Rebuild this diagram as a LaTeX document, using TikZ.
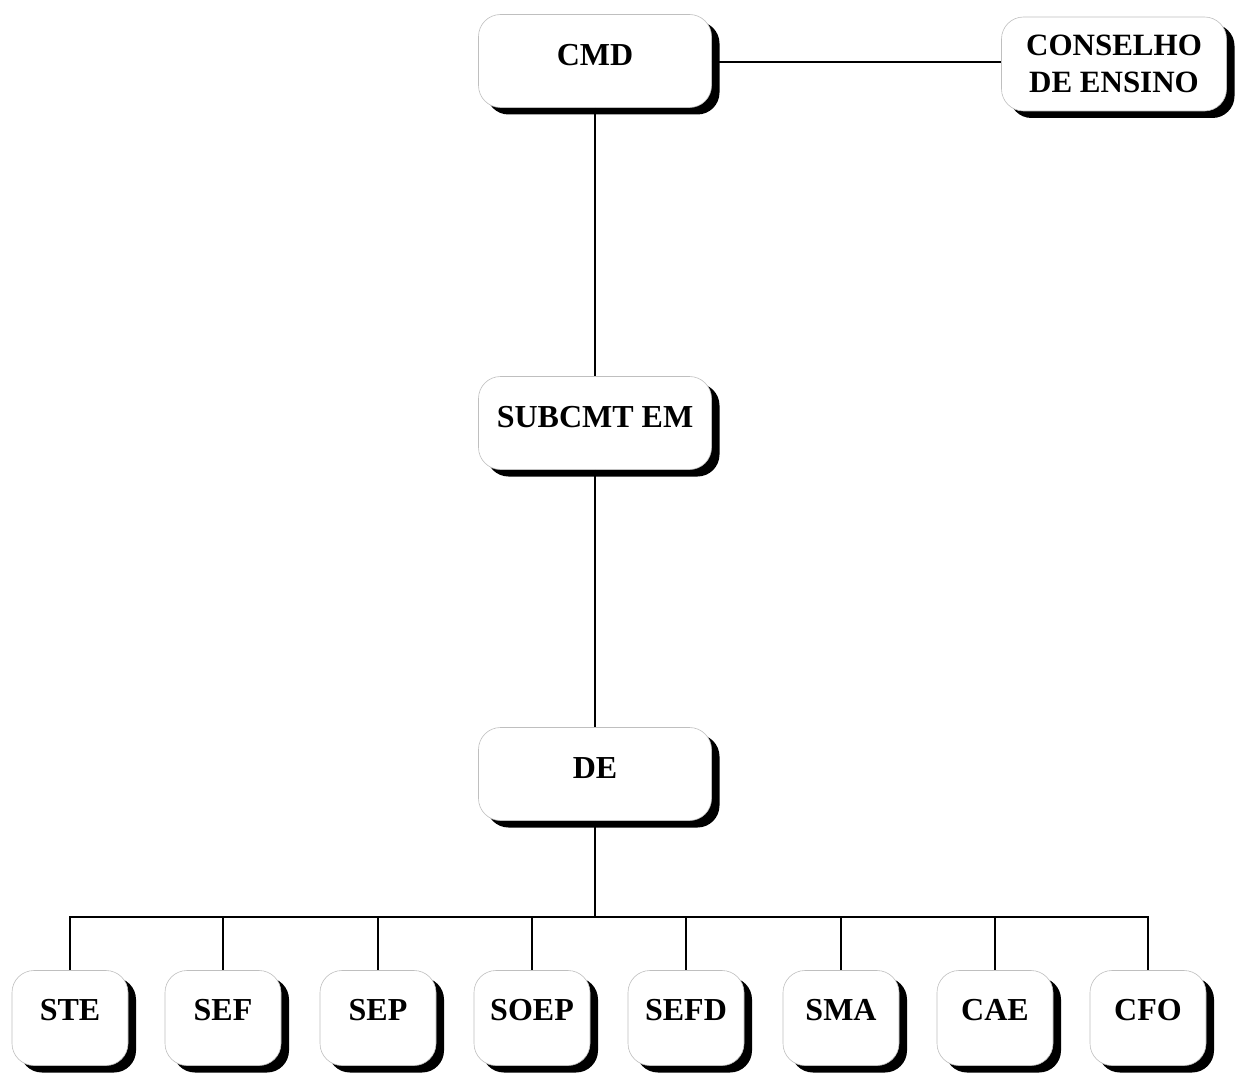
\documentclass[tikz,border=0pt]{standalone}
\usepackage{fontspec}
\setmainfont{Liberation Serif}
\usetikzlibrary{shadows}
\begin{document}
\begin{tikzpicture}[x=1pt,y=-1pt,
  unit/.style={draw=gray!50, line width=0.6pt, fill=white, rounded corners=22pt,
    general shadow={fill=black, shadow xshift=8pt, shadow yshift=-7pt},
    font=\fontsize{32}{37}\selectfont\bfseries, inner sep=0pt,
    text height=21pt, text depth=12pt},
  bigbox/.style={unit, minimum width=233pt, minimum height=93pt},
  smallbox/.style={unit, minimum width=116pt, minimum height=95pt, text depth=16pt},
  link/.style={draw=black, line width=1.4pt}]
\useasboundingbox (0,0) rectangle (1238,1075);
\node[bigbox] (cmd) at (595,61) {CMD};
\node[unit, minimum width=225pt, minimum height=94pt, text height=, text depth=, align=center,
  font=\fontsize{31}{37}\selectfont\bfseries] (cons) at (1114,64) {CONSELHO\\DE ENSINO};
\node[bigbox] (sub) at (595,423) {SUBCMT EM};
\node[bigbox] (de) at (595,774) {DE};
\foreach \n/\t/\x in {ste/STE/70, sef/SEF/223, sep/SEP/378, soep/SOEP/532, sefd/SEFD/686, sma/SMA/841, cae/CAE/995, cfo/CFO/1148}{
  \node[smallbox] (\n) at (\x,1018) {\t};
}
\coordinate (bus) at (595,917);
\draw[link] (cmd.east |- 0,62) -- (cons.west |- 0,62);
\draw[link] (cmd.south) -- (sub.north);
\draw[link] (sub.south) -- (de.north);
\draw[link] (de.south) -- (bus);
\draw[link] (ste.north) -- (ste.north |- bus) -- (cfo.north |- bus) -- (cfo.north);
\foreach \n in {sef,sep,soep,sefd,sma,cae}{
  \draw[link] (\n.north |- bus) -- (\n.north);
}
\end{tikzpicture}
\end{document}
